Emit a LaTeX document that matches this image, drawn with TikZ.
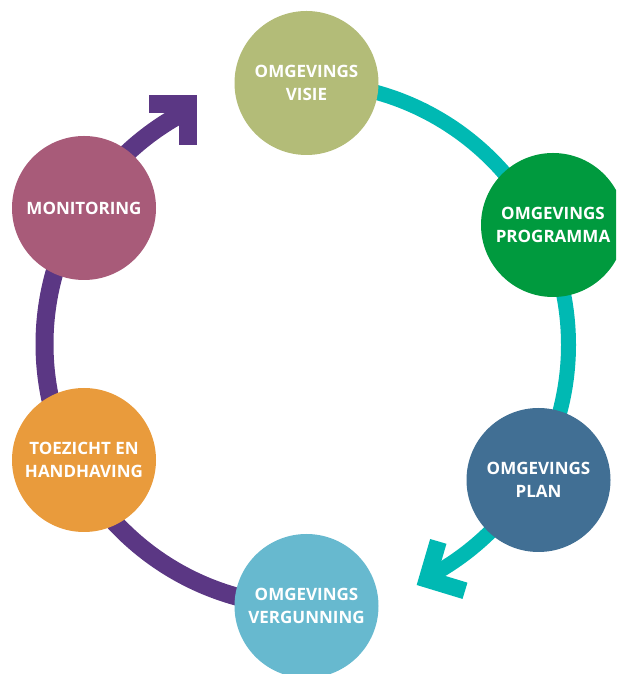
\documentclass[tikz,border=0pt]{standalone}
\usepackage{fontspec}
\setmainfont{Open Sans}
\usetikzlibrary{backgrounds}
\definecolor{visiegreen}{HTML}{B3BC78}
\definecolor{programmagreen}{HTML}{009A3E}
\definecolor{planblue}{HTML}{416F94}
\definecolor{vergunningblue}{HTML}{67B9CF}
\definecolor{toezichtorange}{HTML}{E99B3C}
\definecolor{monitoringred}{HTML}{A85B79}
\definecolor{cycleteal}{HTML}{00B9B3}
\definecolor{cyclepurple}{HTML}{5B3784}
\begin{document}
\begin{tikzpicture}[x=1pt, y=1pt,
stage/.style={circle, fill=#1, minimum size=144pt, inner sep=0pt, text=white, align=center, font=\bfseries\fontsize{17}{22.7}\selectfont},
band/.style={line width=#1, line cap=butt, line join=miter}
]
\useasboundingbox (0,0) rectangle (616,674);
\clip (0,0) rectangle (616,674);

\node[stage=visiegreen] (visie) at (306.5,591) {OMGEVINGS\\VISIE};
\node[stage=programmagreen] (programma) at (553,449) {OMGEVINGS\\PROGRAMMA};
\node[stage=planblue] (plan) at (538.5,194) {OMGEVINGS\\PLAN};
\node[stage=vergunningblue] (vergunning) at (306.5,68) {OMGEVINGS\\VERGUNNING};
\node[stage=toezichtorange] (toezicht) at (84,214) {TOEZICHT EN\\HANDHAVING};
\node[stage=monitoringred] (monitoring) at (84,466) {MONITORING};

% arrow heads
\coordinate (tealtipA) at (438.3,132.6);
\coordinate (tealtip) at (427.2,94.7);
\coordinate (tealtipB) at (465,83.2);
\coordinate (purpletipA) at (149,570);
\coordinate (purpletip) at (188,570);
\coordinate (purpletipB) at (188,529);

\begin{scope}[on background layer]
\draw[band=15pt, cycleteal] (visie.center) arc[start angle=90, end angle=-62.5, radius=262];
\draw[band=17pt, cycleteal] (tealtipA) -- (tealtip) -- (tealtipB);
\draw[band=18pt, cyclepurple] (vergunning.center) arc[start angle=270, end angle=117, radius=262];
\draw[band=18pt, cyclepurple] (purpletipA) -- (purpletip) -- (purpletipB);
\end{scope}
\end{tikzpicture}
\end{document}
